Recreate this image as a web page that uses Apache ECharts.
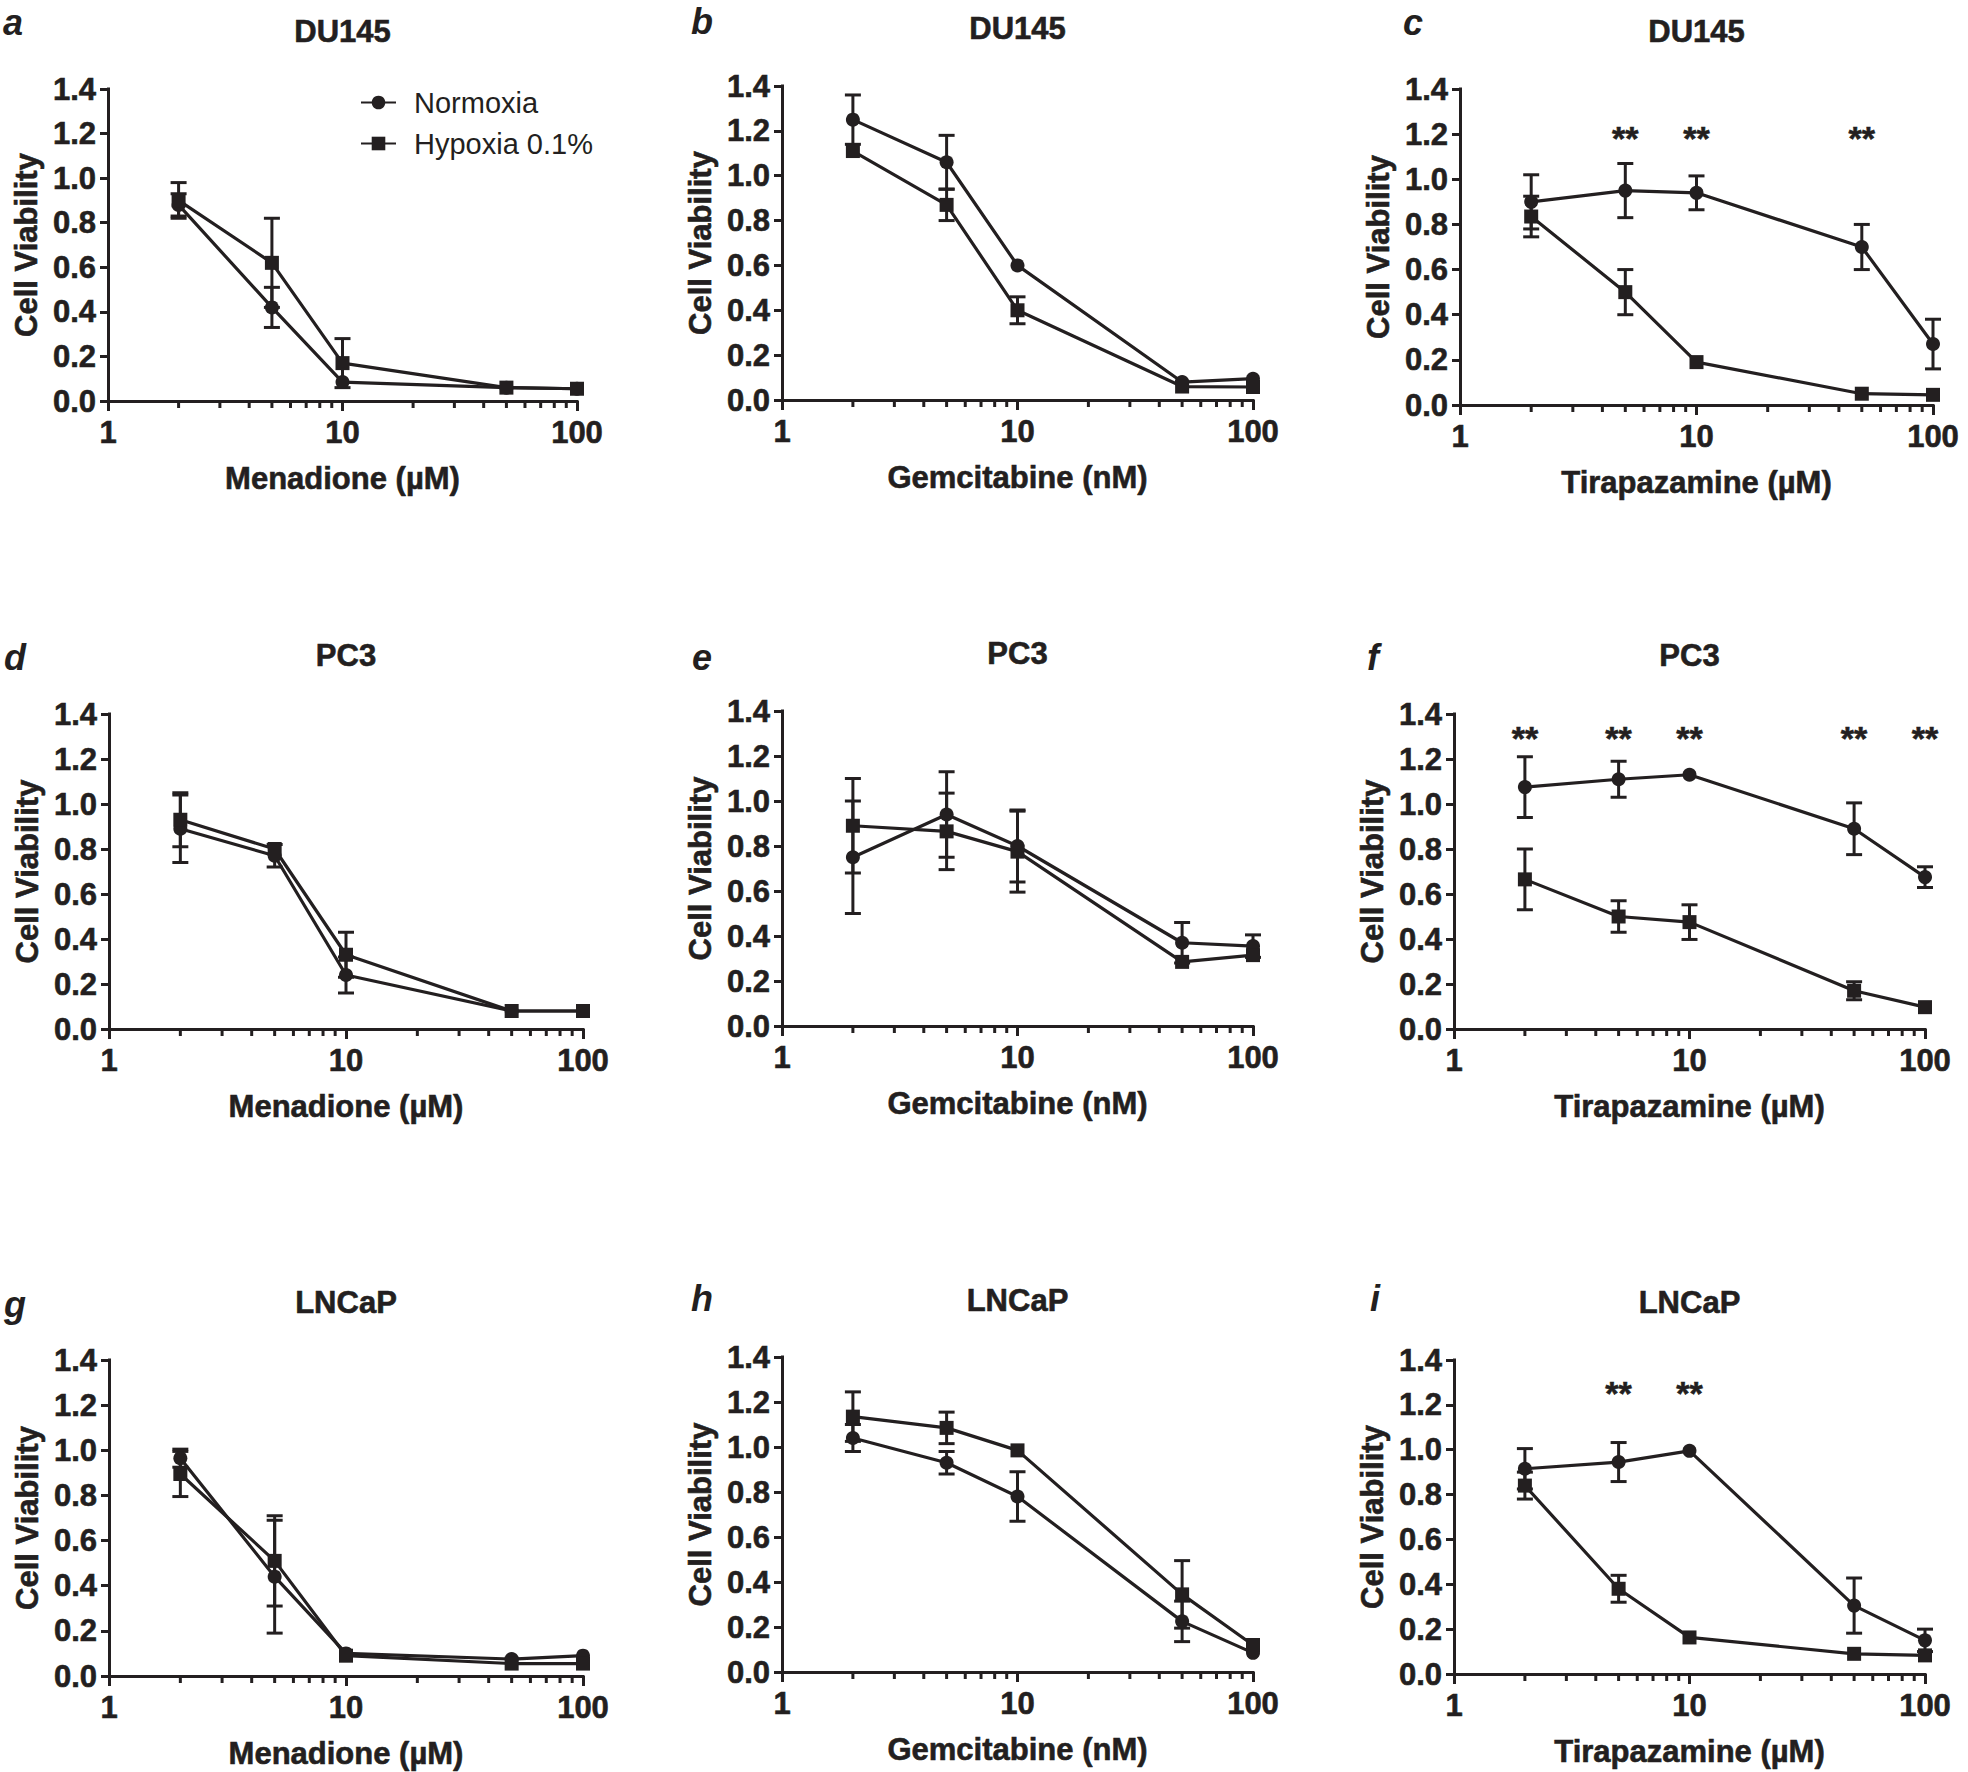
<!DOCTYPE html>
<html>
<head>
<meta charset="utf-8">
<title>Cell viability - normoxia vs hypoxia</title>
<script src="https://cdn.jsdelivr.net/npm/echarts@6/dist/echarts.min.js"></script>
<style>
    html, body { margin: 0; padding: 0; background: #fff; }
    #main { width: 1968px; height: 1772px; }
</style>
</head>
<body>
<div id="main"></div>
<script>
    // doses (same in every panel)
    var doses = [2, 5, 10, 50, 100];
    var minorTicks = [2, 3, 4, 5, 6, 7, 8, 9, 20, 30, 40, 50, 60, 70, 80, 90];

    var panelLetters = ['a', 'b', 'c', 'd', 'e', 'f', 'g', 'h', 'i'];
    var cellLines = ['DU145', 'DU145', 'DU145', 'PC3', 'PC3', 'PC3', 'LNCaP', 'LNCaP', 'LNCaP'];
    var drugNames = ['Menadione (\u00b5M)', 'Gemcitabine (nM)', 'Tirapazamine (\u00b5M)'];
    var seriesNames = ['Normoxia', 'Hypoxia 0.1%'];

    // a - DU145 / menadione
    var normA = [0.88, 0.42, 0.085, 0.06, 0.055], normAErr = [0.05, 0.09, 0.02, 0.01, 0.01];
    var hypA = [0.90, 0.62, 0.17, 0.06, 0.055], hypAErr = [0.08, 0.20, 0.11, 0.01, 0.01];
    // b - DU145 / gemcitabine
    var normB = [1.25, 1.06, 0.60, 0.08, 0.095], normBErr = [0.11, 0.12, 0.01, 0.01, 0.01];
    var hypB = [1.11, 0.87, 0.40, 0.06, 0.058], hypBErr = [0.03, 0.07, 0.06, 0.01, 0.01];
    // c - DU145 / tirapazamine
    var normC = [0.90, 0.95, 0.94, 0.70, 0.27], normCErr = [0.12, 0.12, 0.075, 0.10, 0.11];
    var hypC = [0.835, 0.50, 0.19, 0.05, 0.045], hypCErr = [0.09, 0.10, 0.03, 0.01, 0.01];
    // d - PC3 / menadione
    var normD = [0.89, 0.77, 0.24, 0.08, 0.08], normDErr = [0.15, 0.05, 0.08, 0.01, 0.01];
    var hypD = [0.93, 0.80, 0.33, 0.08, 0.08], hypDErr = [0.12, 0.02, 0.10, 0.01, 0.01];
    // e - PC3 / gemcitabine
    var normE = [0.75, 0.94, 0.80, 0.37, 0.355], normEErr = [0.25, 0.19, 0.16, 0.09, 0.05];
    var hypE = [0.89, 0.865, 0.775, 0.285, 0.315], hypEErr = [0.21, 0.17, 0.18, 0.02, 0.02];
    // f - PC3 / tirapazamine
    var normF = [1.075, 1.11, 1.13, 0.89, 0.675], normFErr = [0.135, 0.08, 0.02, 0.115, 0.046];
    var hypF = [0.665, 0.50, 0.475, 0.17, 0.097], hypFErr = [0.135, 0.07, 0.077, 0.04, 0.01];
    // g - LNCaP / menadione
    var normG = [0.965, 0.44, 0.10, 0.075, 0.09], normGErr = [0.04, 0.25, 0.01, 0.01, 0.01];
    var hypG = [0.895, 0.51, 0.09, 0.055, 0.055], hypGErr = [0.10, 0.20, 0.01, 0.01, 0.01];
    // h - LNCaP / gemcitabine
    var normH = [1.04, 0.93, 0.78, 0.225, 0.085], normHErr = [0.06, 0.05, 0.11, 0.09, 0.01];
    var hypH = [1.135, 1.085, 0.985, 0.345, 0.12], hypHErr = [0.11, 0.07, 0.02, 0.15, 0.01];
    // i - LNCaP / tirapazamine
    var normI = [0.915, 0.945, 0.995, 0.305, 0.15], normIErr = [0.09, 0.087, 0.01, 0.123, 0.05];
    var hypI = [0.84, 0.38, 0.163, 0.09, 0.083], hypIErr = [0.06, 0.06, 0.01, 0.01, 0.01];

    // significance marks (**): doses and height
    var sigC = [5, 10, 50], sigCLevel = 1.2;
    var sigF = [2, 5, 10, 50, 100], sigFLevel = 1.31;
    var sigI = [5, 10], sigILevel = 1.27;

    var panels = [
        {n: normA, ne: normAErr, h: hypA, he: hypAErr, sig: [], lvl: 0},
        {n: normB, ne: normBErr, h: hypB, he: hypBErr, sig: [], lvl: 0},
        {n: normC, ne: normCErr, h: hypC, he: hypCErr, sig: sigC, lvl: sigCLevel},
        {n: normD, ne: normDErr, h: hypD, he: hypDErr, sig: [], lvl: 0},
        {n: normE, ne: normEErr, h: hypE, he: hypEErr, sig: [], lvl: 0},
        {n: normF, ne: normFErr, h: hypF, he: hypFErr, sig: sigF, lvl: sigFLevel},
        {n: normG, ne: normGErr, h: hypG, he: hypGErr, sig: [], lvl: 0},
        {n: normH, ne: normHErr, h: hypH, he: hypHErr, sig: [], lvl: 0},
        {n: normI, ne: normIErr, h: hypI, he: hypIErr, sig: sigI, lvl: sigILevel}
    ];

    // plot boxes: left, top, width, height, letter x, letter y, title y
    var layout = [
        [108, 89, 469, 312, 13, 22, 31],
        [782, 86, 471, 314, 702, 21, 28],
        [1460, 89, 473, 316, 1413, 22, 31],
        [109, 714, 474, 315, 15, 657, 655],
        [782, 711, 471, 315, 702, 657, 653],
        [1454, 714, 471, 315, 1373, 657, 655],
        [109, 1360, 474, 316, 15, 1304, 1302],
        [782, 1357, 471, 315, 702, 1298, 1300],
        [1454, 1360, 471, 314, 1375, 1298, 1302]
    ];

    var INK = '#231f20';
    var FONT = '"Liberation Sans", Arial, Helvetica, sans-serif';
    // bold text in the figure is a bit heavier than a plain bold face
    var heavy = {fontFamily: FONT, fontWeight: 'bold', fontSize: 31, color: INK,
        textBorderColor: INK, textBorderWidth: 0.6};

    function errorBars(params, api) {
        var x = api.value(0);
        var lo = api.coord([x, api.value(1)]);
        var hi = api.coord([x, api.value(2)]);
        if (Math.abs(lo[1] - hi[1]) / 2 < 8) return {type: 'group', children: []};
        var w = 8;
        var st = {stroke: INK, lineWidth: 3};
        return {
            type: 'group',
            children: [
                {type: 'line', shape: {x1: lo[0], y1: lo[1], x2: hi[0], y2: hi[1]}, style: st},
                {type: 'line', shape: {x1: hi[0] - w, y1: hi[1], x2: hi[0] + w, y2: hi[1]}, style: st},
                {type: 'line', shape: {x1: lo[0] - w, y1: lo[1], x2: lo[0] + w, y2: lo[1]}, style: st}
            ]
        };
    }

    function minorTick(params, api) {
        var p = api.coord([api.value(0), 0]);
        return {
            type: 'line',
            shape: {x1: p[0], y1: p[1], x2: p[0], y2: p[1] + 7},
            style: {stroke: INK, lineWidth: 3}
        };
    }

    function stars(params, api) {
        var p = api.coord([api.value(0), api.value(1)]);
        return {
            type: 'text',
            x: p[0],
            y: p[1] + 4,
            style: {
                text: '**', fill: INK, font: 'bold 34px ' + FONT,
                stroke: INK, lineWidth: 0.6,
                align: 'center', verticalAlign: 'middle',
                textAlign: 'center', textVerticalAlign: 'middle'
            }
        };
    }

    var grids = [], xAxes = [], yAxes = [], series = [], graphics = [];

    panels.forEach(function (p, i) {
        var l = layout[i];
        grids.push({left: l[0], top: l[1], width: l[2], height: l[3]});

        xAxes.push({
            type: 'log', logBase: 10, min: 1, max: 100, gridIndex: i,
            name: drugNames[i % 3], nameLocation: 'middle', nameGap: 62,
            nameTextStyle: heavy,
            axisLine: {onZero: false, lineStyle: {color: INK, width: 3, cap: 'square'}},
            axisTick: {show: true, length: 10, lineStyle: {color: INK, width: 3}},
            axisLabel: Object.assign({margin: 16}, heavy),
            splitLine: {show: false},
            minorTick: {show: false}
        });

        yAxes.push({
            type: 'value', min: 0, max: 1.4, interval: 0.2, gridIndex: i,
            name: 'Cell Viability', nameLocation: 'middle', nameGap: 66, nameRotate: 90,
            nameTextStyle: heavy,
            axisLine: {show: true, onZero: false, lineStyle: {color: INK, width: 3, cap: 'square'}},
            axisTick: {show: true, length: 8, lineStyle: {color: INK, width: 3}},
            axisLabel: Object.assign({
                margin: 12,
                formatter: function (v) { return v.toFixed(1); }
            }, heavy),
            splitLine: {show: false}
        });

        var errData = [];
        doses.forEach(function (d, k) {
            errData.push([d, p.n[k] - p.ne[k], p.n[k] + p.ne[k]]);
            errData.push([d, p.h[k] - p.he[k], p.h[k] + p.he[k]]);
        });

        series.push({
            type: 'custom', xAxisIndex: i, yAxisIndex: i, silent: true, z: 2,
            renderItem: errorBars, encode: {x: 0, y: [1, 2]}, data: errData
        });
        series.push({
            name: seriesNames[0], type: 'line', xAxisIndex: i, yAxisIndex: i, z: 3,
            symbol: 'circle', symbolSize: 14, showAllSymbol: true,
            lineStyle: {color: INK, width: 3.2}, itemStyle: {color: INK},
            data: doses.map(function (d, k) { return [d, p.n[k]]; })
        });
        series.push({
            name: seriesNames[1], type: 'line', xAxisIndex: i, yAxisIndex: i, z: 3,
            symbol: 'rect', symbolSize: 14, showAllSymbol: true,
            lineStyle: {color: INK, width: 3.2}, itemStyle: {color: INK},
            data: doses.map(function (d, k) { return [d, p.h[k]]; })
        });
        series.push({
            type: 'custom', xAxisIndex: i, yAxisIndex: i, silent: true,
            renderItem: minorTick, encode: {x: 0, y: 1},
            data: minorTicks.map(function (t) { return [t, 0]; })
        });
        if (p.sig.length) {
            series.push({
                type: 'custom', xAxisIndex: i, yAxisIndex: i, silent: true,
                renderItem: stars, encode: {x: 0, y: 1},
                data: p.sig.map(function (d) { return [d, p.lvl]; })
            });
        }

        graphics.push({
            type: 'text', x: l[0] + l[2] / 2, y: l[6],
            style: {
                text: cellLines[i], fill: INK, font: 'bold 31px ' + FONT,
                stroke: INK, lineWidth: 0.6,
                align: 'center', verticalAlign: 'middle', textAlign: 'center', textVerticalAlign: 'middle'
            }
        });
        graphics.push({
            type: 'text', x: l[4], y: l[5],
            style: {
                text: panelLetters[i], fill: INK, font: 'italic bold 36px ' + FONT,
                align: 'center', verticalAlign: 'middle', textAlign: 'center', textVerticalAlign: 'middle'
            }
        });
    });

    var myChart = echarts.init(document.getElementById('main'), null, {renderer: 'svg'});
    myChart.setOption({
        backgroundColor: '#fff',
        animation: false,
        grid: grids,
        xAxis: xAxes,
        yAxis: yAxes,
        legend: {
            show: true, orient: 'vertical', left: 355, top: 83,
            itemWidth: 35, itemHeight: 17, itemGap: 12, selectedMode: false,
            data: seriesNames,
            textStyle: {fontFamily: FONT, fontSize: 29, lineHeight: 29, color: INK, padding: [0, 0, 0, 13]}
        },
        graphic: graphics,
        series: series
    });
</script>
</body>
</html>
